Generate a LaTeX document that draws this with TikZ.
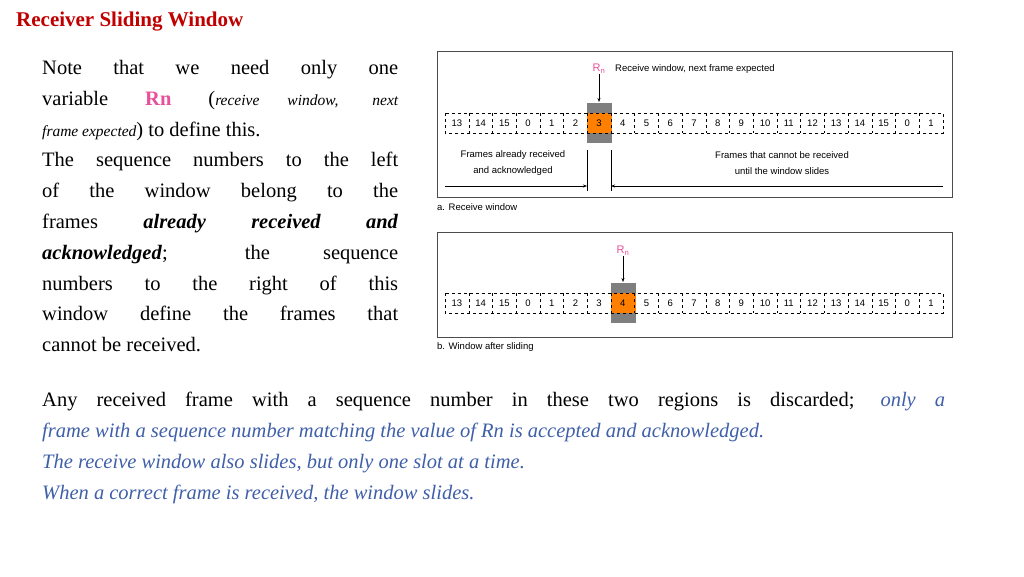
\documentclass[tikz,border=0pt]{standalone}
\usepackage{fontspec}
\setmainfont{Liberation Serif}
\newfontfamily\diagfont{Liberation Sans}
\usetikzlibrary{arrows.meta}
\definecolor{titlered}{HTML}{C00000}
\definecolor{rnpink}{HTML}{E8509A}
\definecolor{noteblue}{HTML}{3F5FA8}
\definecolor{winorange}{HTML}{FF8000}
\definecolor{wingray}{HTML}{7F7F7F}
\newcommand{\cellw}{23.71}
\begin{document}
\begin{tikzpicture}[x=1pt,y=-1pt,
  body/.style={anchor=north west,inner sep=0pt,align=justify,font=\fontsize{20.5}{30.8}\selectfont},
  small/.style={font=\diagfont\fontsize{9.5}{16}\selectfont,inner sep=0pt},
  rn/.style={small,text=rnpink,font=\diagfont\fontsize{11}{13}\selectfont},
  vect/.style={-{Stealth[length=4pt,width=3pt]},line width=0.5pt}]
  \useasboundingbox (0,0) rectangle (1024,576);

  % title and text
  \node[anchor=west,inner sep=0pt,text=titlered,font=\fontsize{21}{26}\selectfont\bfseries] (title) at (16,22) {Receiver Sliding Window};
  \node[body,text width=356pt] (note) at (42,60) {Note that we need only one\linebreak
    variable {\color{rnpink}\bfseries Rn} ({\fontsize{15.5}{30.8}\selectfont\itshape receive window, next\linebreak
    frame expected}) to define this.\\
    The sequence numbers to the left\linebreak of the window belong to the\linebreak
    frames \textbf{\textit{already received and}}\linebreak \textbf{\textit{acknowledged}}; the sequence\linebreak
    numbers to the right of this\linebreak window define the frames that\linebreak cannot be received.};
  \node[body,text width=903pt] (rule) at (42,392) {Any received frame with a sequence number in these two regions is discarded; {\color{noteblue}\itshape only a\linebreak
    frame with a sequence number matching the value of Rn is accepted and acknowledged.\\
    The receive window also slides, but only one slot at a time.\\
    When a correct frame is received, the window slides.}};

  % a. receive window
  \draw[line width=0.8pt,draw=black!70] (437,51) rectangle (952,197);
  \fill[wingray] (587,103) rectangle (612,143);
  \fill[winorange] (587,113) rectangle (612,133);
  \draw[dashed,line width=0.4pt] (445,113) rectangle (943,133);
  \foreach \i in {1,...,20}
    \draw[dashed,line width=0.4pt] (445+\i*\cellw,113) -- (445+\i*\cellw,133);
  \foreach \i in {0,...,20}{
    \pgfmathtruncatemacro{\seq}{mod(\i+13,16)}
    \node[small] (a\i) at (445+\i*\cellw+0.5*\cellw,123) {\seq};
  }
  \node[rn] (rnA) at (599,69) {R\textsubscript{n}};
  \node[small,anchor=west] (winA) at (615,69) {Receive window, next frame expected};
  \draw[vect] (rnA.south) -- (599,102);
  \node[small,align=center] (doneA) at (513,163) {Frames already received\\and acknowledged};
  \node[small,align=center] (waitA) at (782,163) {Frames that cannot be received\\until the window slides};
  \coordinate (leftA) at (587,186);
  \coordinate (rightA) at (611,186);
  \draw[line width=0.4pt] (587,150) -- (587,191) (611,150) -- (611,191);
  \draw[vect] (445,186) -- (leftA);
  \draw[vect] (943,186) -- (rightA);
  \node[small,anchor=west] (capA) at (437,207) {a. Receive window};

  % b. window after sliding
  \draw[line width=0.8pt,draw=black!70] (437,232) rectangle (952,337);
  \fill[wingray] (611,283) rectangle (636,323);
  \fill[winorange] (611,293) rectangle (636,313);
  \draw[dashed,line width=0.4pt] (445,293) rectangle (943,313);
  \foreach \i in {1,...,20}
    \draw[dashed,line width=0.4pt] (445+\i*\cellw,293) -- (445+\i*\cellw,313);
  \foreach \i in {0,...,20}{
    \pgfmathtruncatemacro{\seq}{mod(\i+13,16)}
    \node[small] (b\i) at (445+\i*\cellw+0.5*\cellw,303) {\seq};
  }
  \node[rn] (rnB) at (623,251) {R\textsubscript{n}};
  \draw[vect] (rnB.south) -- (623,282);
  \node[small,anchor=west] (capB) at (437,347) {b. Window after sliding};
\end{tikzpicture}
\end{document}
